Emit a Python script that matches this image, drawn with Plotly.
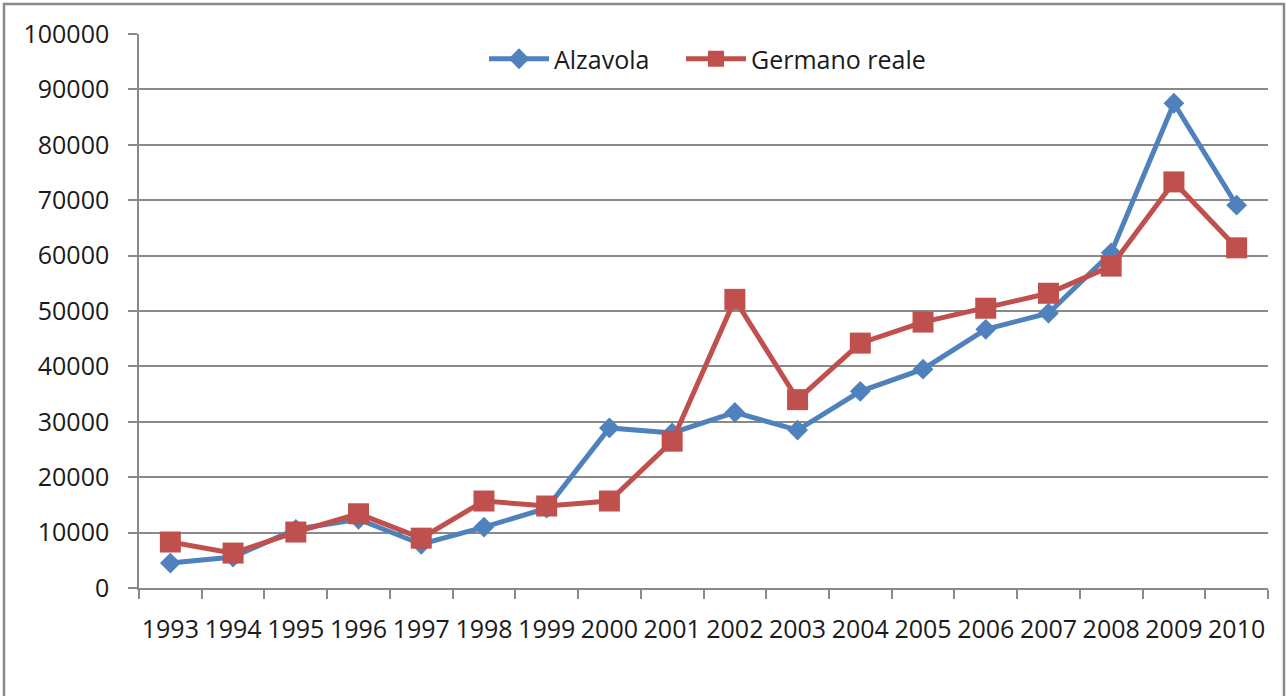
import plotly.graph_objects as go

years = [str(y) for y in range(1993, 2011)]
alzavola = [4500, 5600, 10600, 12400, 7900, 11000, 14400, 28900, 28000, 31700,
            28500, 35500, 39500, 46700, 49600, 60500, 87500, 69100]
germano = [8300, 6300, 10100, 13400, 9000, 15700, 14800, 15700, 26500, 52100,
           34000, 44200, 48000, 50500, 53200, 58100, 73300, 61400]
y_ticks = list(range(0, 100001, 10000))

BLUE = "#4F81BD"
RED = "#C0504D"
FONT = "Open Sans"

fig = go.Figure()
fig.add_trace(go.Scatter(
    x=years, y=alzavola, name="Alzavola", mode="lines+markers",
    line=dict(color=BLUE, width=5),
    marker=dict(symbol="diamond", size=16, color=BLUE),
    legend="legend",
))
fig.add_trace(go.Scatter(
    x=years, y=germano, name="Germano reale", mode="lines+markers",
    line=dict(color=RED, width=5),
    marker=dict(symbol="square", size=21, color=RED),
    legend="legend2",
))

L, R, T, B = 139, 18, 34, 108
W, H = 1286, 696
pw, ph = W - L - R, H - T - B

def px_to_paper_x(px):
    return (px - L) / pw

def px_to_paper_y(py):
    return (H - B - py) / ph

fig.add_shape(type="rect", xref="paper", yref="paper",
              x0=px_to_paper_x(4), x1=px_to_paper_x(1284),
              y0=px_to_paper_y(705), y1=px_to_paper_y(4),
              line=dict(color="#8a8a8a", width=2.5), layer="below")

legend_common = dict(orientation="h", xanchor="left", y=px_to_paper_y(59), yanchor="middle",
                     bgcolor="rgba(0,0,0,0)", itemwidth=60,
                     font=dict(family=FONT, size=25, color="#1a1a1a"))

fig.update_layout(
    width=W, height=H,
    margin=dict(l=L, r=R, t=T, b=B, autoexpand=False),
    paper_bgcolor="white", plot_bgcolor="white",
    font=dict(family=FONT, size=25, color="#1a1a1a"),
    showlegend=True,
    legend=dict(x=px_to_paper_x(484), **legend_common),
    legend2=dict(x=px_to_paper_x(681), **legend_common),
    xaxis=dict(
        type="category", showgrid=False, showline=True, linecolor="#8a8a8a", linewidth=1.5,
        ticks="outside", ticklen=9, tickcolor="#8a8a8a", tickwidth=1.5,
        tickson="boundaries", ticklabelstandoff=18, tickangle=0,
        tickfont=dict(family=FONT, size=25, color="#1a1a1a"),
        range=[-0.5, len(years) - 0.5], automargin=False, fixedrange=True,
    ),
    yaxis=dict(
        range=[0, 100000], tickvals=y_ticks, ticktext=[str(v) for v in y_ticks],
        showgrid=True, gridcolor="#8a8a8a", gridwidth=1.5,
        showline=True, linecolor="#8a8a8a", linewidth=1.5,
        ticks="outside", ticklen=9, tickcolor="#8a8a8a", tickwidth=1.5,
        ticklabelstandoff=14, zeroline=False,
        tickfont=dict(family=FONT, size=25, color="#1a1a1a"),
        automargin=False, fixedrange=True,
    ),
)

fig.write_html("out.html", config={"displayModeBar": False},
               post_script="document.body.style.margin='0';document.body.style.overflow='hidden';")
